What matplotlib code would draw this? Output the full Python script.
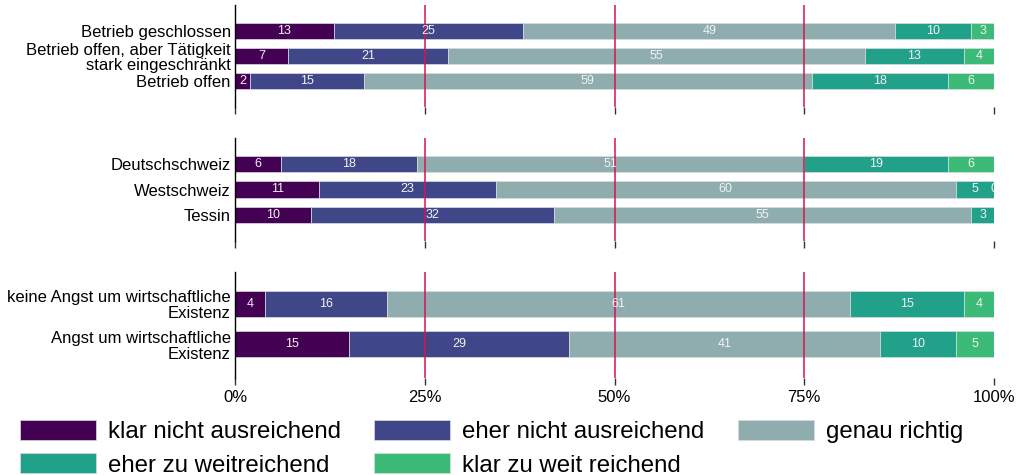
import numpy as np
import matplotlib.pyplot as plt
from matplotlib.patches import Patch

plt.rcParams['font.family'] = ['Liberation Sans', 'DejaVu Sans']

# answer categories and colours
answers = ["klar nicht ausreichend", "eher nicht ausreichend", "genau richtig",
           "eher zu weitreichend", "klar zu weit reichend"]
colors = ["#440154", "#404788", "#8FACAF", "#21A08A", "#3BBA78"]

# panel 1: Betriebssituation
labels_betrieb = ["Betrieb geschlossen",
                  "Betrieb offen, aber Tätigkeit\nstark eingeschränkt",
                  "Betrieb offen"]
values_betrieb = [[13, 25, 49, 10, 3],
                  [7, 21, 55, 13, 4],
                  [2, 15, 59, 18, 6]]

# panel 2: Sprachregion
labels_region = ["Deutschschweiz", "Westschweiz", "Tessin"]
values_region = [[6, 18, 51, 19, 6],
                 [11, 23, 60, 5, 0],
                 [10, 32, 55, 3, None]]

# panel 3: Existenzangst
labels_angst = ["keine Angst um wirtschaftliche\nExistenz",
                "Angst um wirtschaftliche\nExistenz"]
values_angst = [[4, 16, 61, 15, 4],
                [15, 29, 41, 10, 5]]

x_ticks = [0, 25, 50, 75, 100]
x_ticklabels = ["0%", "25%", "50%", "75%", "100%"]

W, H = 1018, 475
fig = plt.figure(figsize=(W / 100, H / 100), dpi=100)

# (top px, bottom px, ylim top, ylim bottom)
panels = [
    (labels_betrieb, values_betrieb, 5, 107, -1.04, 3.04),
    (labels_region, values_region, 138, 241, -1.02, 3.02),
    (labels_angst, values_angst, 272, 378, -0.79, 1.83),
]

left, right = 235, 994
for i, (labels, values, top, bottom, y0, y1) in enumerate(panels):
    ax = fig.add_axes([left / W, 1 - bottom / H, (right - left) / W, (bottom - top) / H])
    for r, row in enumerate(values):
        vals = [v for v in row if v is not None]
        total = sum(vals)
        start = 0
        for k, v in enumerate(row):
            if v is None:
                continue
            w = v / total * 100
            ax.barh(r, w, left=start, height=0.64, color=colors[k],
                    edgecolor="#d8dede", linewidth=0.5, zorder=2)
            ax.text(start + w / 2, r, str(v), ha="center", va="center",
                    color="#f2f2f2", fontsize=9, zorder=4, clip_on=True)
            start += w
    for xv in [25, 50, 75]:
        ax.axvline(xv, color="#D6134F", linewidth=1.1, zorder=3)
    ax.set_xlim(0, 100)
    ax.set_ylim(y1, y0)
    ax.set_yticks(range(len(labels)))
    ax.set_yticklabels(labels, fontsize=12, linespacing=1.05, ma="right")
    ax.tick_params(axis="y", length=0, pad=3)
    ax.set_xticks(x_ticks)
    ax.tick_params(axis="x", length=5, width=1, color="#333333")
    if i == 2:
        ax.set_xticklabels(x_ticklabels, fontsize=12)
    else:
        ax.set_xticklabels([])
    for s in ["top", "right", "bottom"]:
        ax.spines[s].set_visible(False)
    ax.spines["left"].set_linewidth(1)
    ax.spines["left"].set_color("black")

# legend in row-major order
handles = [Patch(facecolor=c, edgecolor="#d8dede", linewidth=0.5) for c in colors]
order = [0, 3, 1, 4, 2]
fig.legend([handles[j] for j in order], [answers[j] for j in order],
           loc="upper left", bbox_to_anchor=(20 / W, 1 - 420 / H), ncol=3,
           frameon=False, fontsize=17.3, handlelength=3.15, handleheight=0.9,
           handletextpad=0.5, columnspacing=1.4, labelspacing=0.42,
           borderpad=0, borderaxespad=0)

fig.savefig("out.png", dpi=100)
